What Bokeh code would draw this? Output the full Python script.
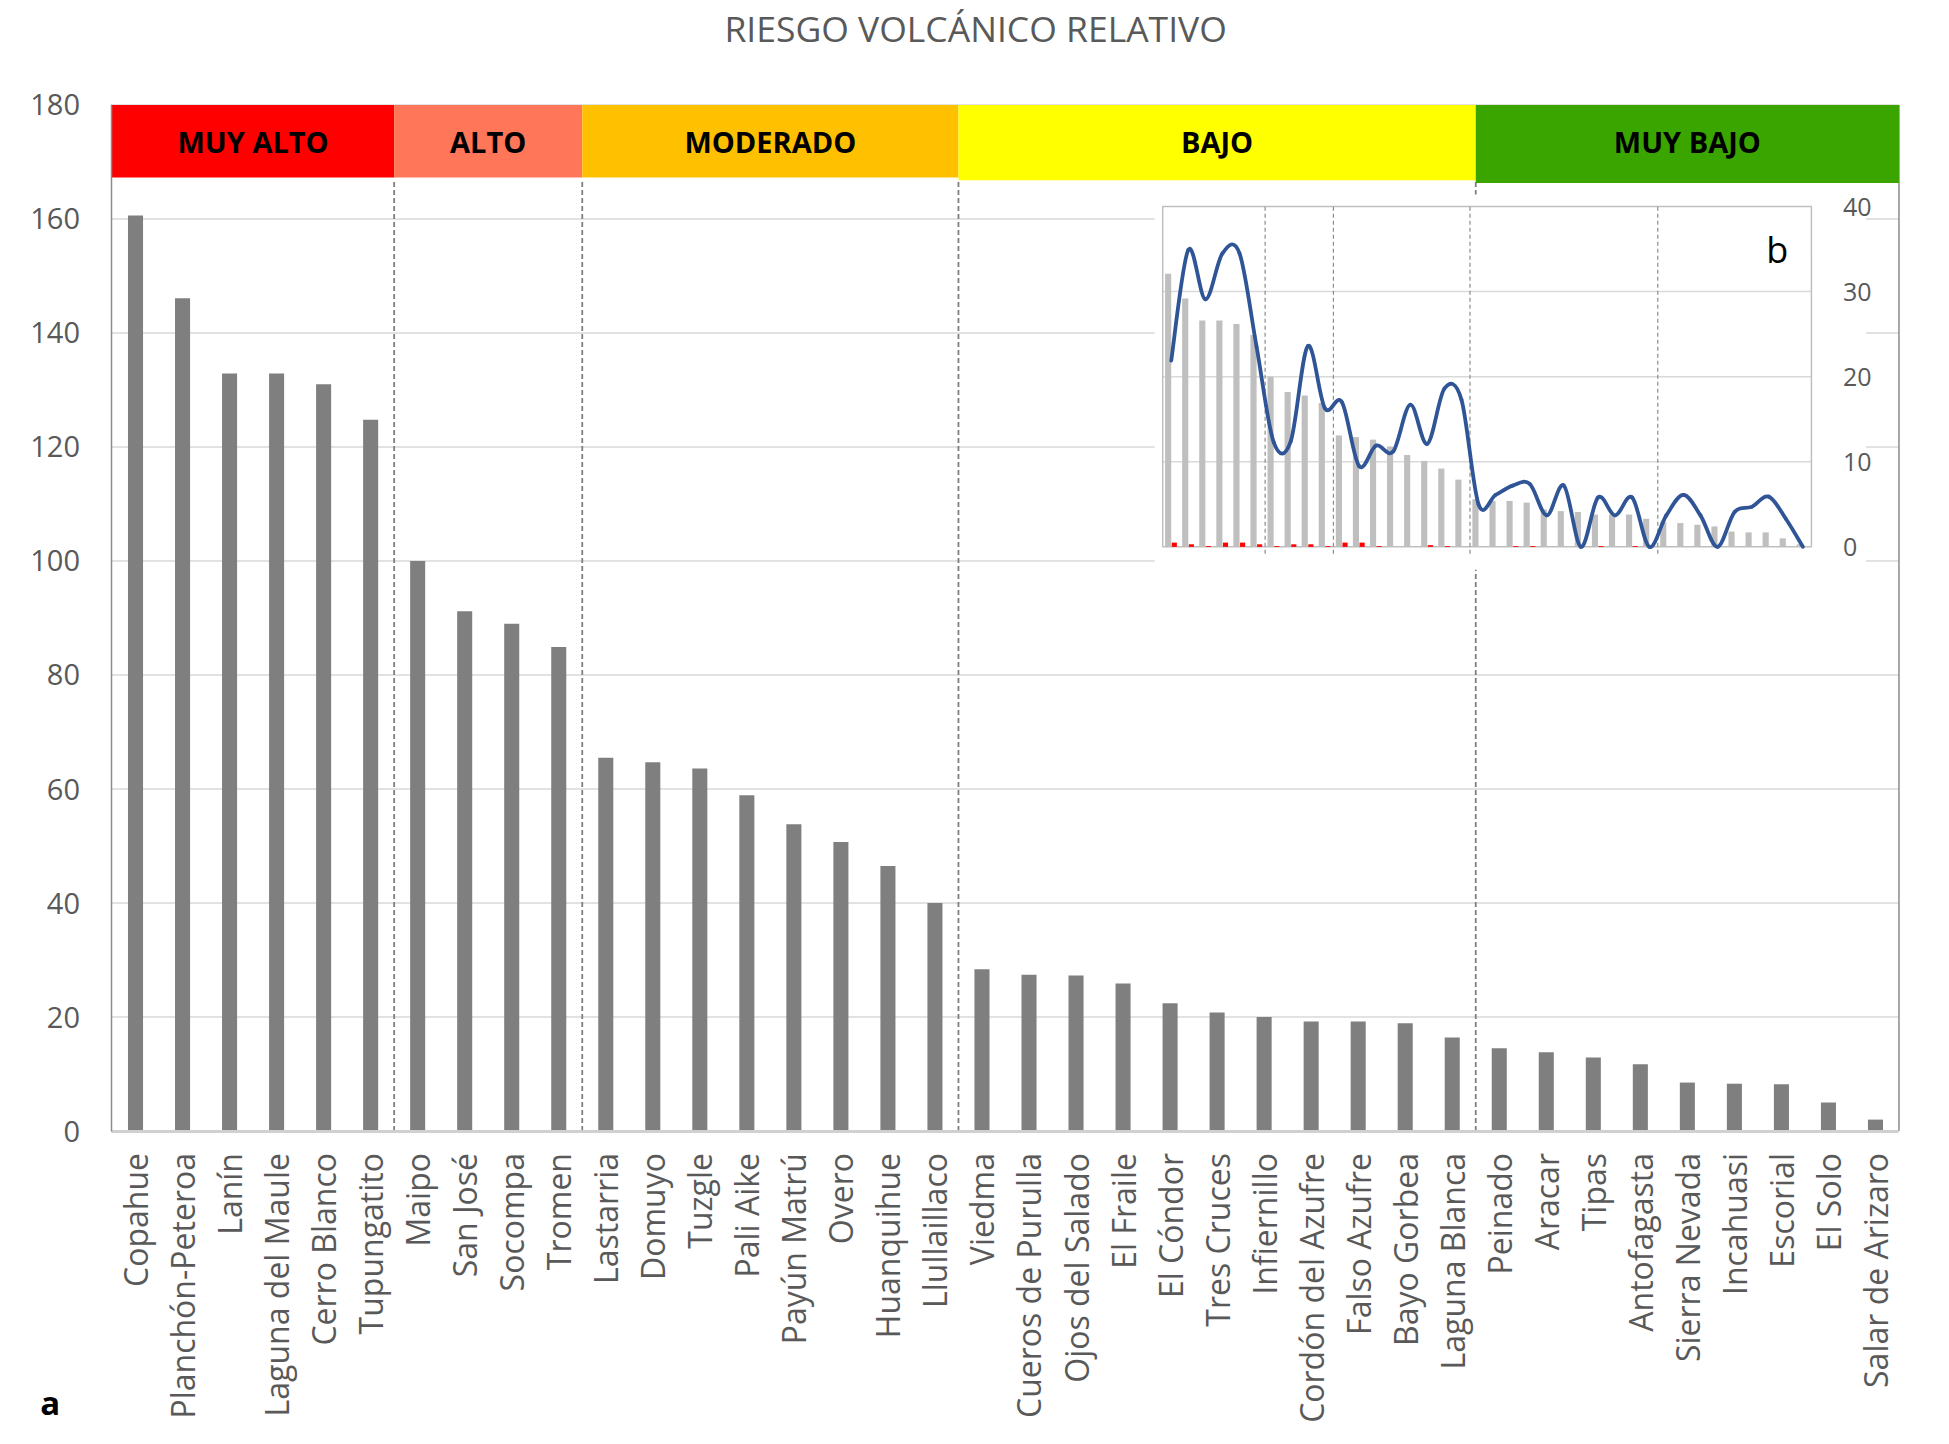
import math
from bokeh.plotting import figure
from bokeh.models import Range1d, FixedTicker
from bokeh.core.properties import value
from bokeh.embed import file_html
from bokeh.resources import INLINE

# ---------------- data ----------------
volcanes = ["Copahue", "Planchón-Peteroa", "Lanín", "Laguna del Maule", "Cerro Blanco",
            "Tupungatito", "Maipo", "San José", "Socompa", "Tromen", "Lastarria", "Domuyo",
            "Tuzgle", "Pali Aike", "Payún Matrú", "Overo", "Huanquihue", "Llullaillaco",
            "Viedma", "Cueros de Purulla", "Ojos del Salado", "El Fraile", "El Cóndor",
            "Tres Cruces", "Infiernillo", "Cordón del Azufre", "Falso Azufre", "Bayo Gorbea",
            "Laguna Blanca", "Peinado", "Aracar", "Tipas", "Antofagasta", "Sierra Nevada",
            "Incahuasi", "Escorial", "El Solo", "Salar de Arizaro"]
riesgo = [160.6, 146.1, 132.9, 132.9, 131.0, 124.8, 100.0, 91.2, 89.0, 84.9,
          65.5, 64.7, 63.6, 58.9, 53.8, 50.7, 46.5, 40.0,
          28.4, 27.4, 27.3, 25.9, 22.4, 20.8, 20.0, 19.2, 19.2, 18.9, 16.4,
          14.5, 13.8, 12.9, 11.7, 8.5, 8.3, 8.2, 5.0, 2.0]
categorias = ["MUY ALTO", "ALTO", "MODERADO", "BAJO", "MUY BAJO"]
n_por_categoria = [6, 4, 8, 11, 9]
y_ticks = [0, 20, 40, 60, 80, 100, 120, 140, 160, 180]

# inset (b)
inset_gris = [32.1, 29.2, 26.6, 26.6, 26.2, 24.9, 20.0, 18.2, 17.8, 16.9,
              13.1, 12.9, 12.6, 11.8, 10.8, 10.1, 9.2, 7.9, 5.6, 5.4,
              5.4, 5.2, 4.4, 4.2, 4.1, 3.8, 3.8, 3.8, 3.3, 2.9,
              2.8, 2.6, 2.4, 1.8, 1.7, 1.7, 1.0, 0.3]
inset_rojo = [0.5, 0.3, 0.1, 0.5, 0.5, 0.3, 0.1, 0.3, 0.3, 0.1,
              0.5, 0.5, 0.1, 0.0, 0.0, 0.2, 0.1, 0.0, 0.0, 0.0,
              0.1, 0.1, 0.0, 0.0, 0.0, 0.1, 0.0, 0.1, 0.0, 0.0,
              0.0, 0.0, 0.0, 0.0, 0.0, 0.0, 0.0, 0.0]
inset_linea = [21.9, 34.9, 29.1, 34.5, 34.5, 23.5, 12.3, 12.4, 23.6, 16.3,
               17.0, 9.5, 11.9, 11.2, 16.7, 12.1, 18.6, 17.3, 5.0, 6.1,
               7.2, 7.4, 3.7, 7.2, 0.0, 5.8, 3.7, 5.8, 0.0, 3.7,
               6.1, 3.7, 0.0, 4.1, 4.7, 5.9, 3.3, 0.0]
inset_ticks = [0, 10, 20, 30, 40]

titulo = "RIESGO VOLCÁNICO RELATIVO"

# ---------------- layout / styles ----------------
band_colors = ["#FF0000", "#FF7758", "#FFC000", "#FFFF00", "#3BA500"]
band_bottoms = [167.3, 167.3, 167.3, 166.8, 166.3]
GRAY_TXT = "#595959"
FONT = "Open Sans"

n = len(volcanes)
xs = list(range(n))

# frame covers whole canvas; main plot area is -0.5..n-0.5 x 0..180
XR = (-2.871, 38.234)
YR = (-52.19, 198.33)
# inset placement expressed in main-plot coordinates
INSET_X = (21.843, 35.638)   # main x at inset left / right border
INSET_Y = (102.48, 162.19)   # main y at inset 0 / 40

ax = (INSET_X[1] - INSET_X[0]) / n
ix_start = (XR[0] - INSET_X[0]) / ax - 0.5
ix_end = (XR[1] - INSET_X[0]) / ax - 0.5
ay = (INSET_Y[1] - INSET_Y[0]) / inset_ticks[-1]
iy_start = (YR[0] - INSET_Y[0]) / ay
iy_end = (YR[1] - INSET_Y[0]) / ay

p = figure(width=1933, height=1428,
           x_range=Range1d(*XR), y_range=Range1d(*YR),
           output_backend="svg", toolbar_location=None, min_border=0)
p.extra_x_ranges = {"ix": Range1d(ix_start, ix_end)}
p.extra_y_ranges = {"iy": Range1d(iy_start, iy_end)}
p.outline_line_color = None
p.background_fill_color = "white"
p.xgrid.visible = False
p.ygrid.visible = False

# axes (fixed inside the canvas)
p.xaxis.fixed_location = 0
p.xaxis.bounds = (-0.5, n - 0.5)
p.xaxis.ticker = FixedTicker(ticks=xs)
p.xaxis.major_label_overrides = {i: v for i, v in enumerate(volcanes)}
p.xaxis.major_label_orientation = math.pi / 2
p.xaxis.major_label_text_font = FONT
p.xaxis.major_label_text_font_size = "32px"
p.xaxis.major_label_text_color = GRAY_TXT
p.xaxis.major_label_standoff = 16
p.xaxis.major_tick_line_color = None
p.xaxis.minor_tick_line_color = None
p.xaxis.axis_line_color = "#D0D0D0"
p.xaxis.axis_line_width = 3

p.yaxis.fixed_location = -0.5
p.yaxis.bounds = (0, 180)
p.yaxis.ticker = FixedTicker(ticks=y_ticks)
p.yaxis.major_label_text_font = FONT
p.yaxis.major_label_text_font_size = "29px"
p.yaxis.major_label_text_color = GRAY_TXT
p.yaxis.major_label_standoff = 26
p.yaxis.major_tick_line_color = None
p.yaxis.minor_tick_line_color = None
p.yaxis.axis_line_color = "#8C8C8C"
p.yaxis.axis_line_width = 1.5

# horizontal grid lines
p.segment(x0=[-0.5] * len(y_ticks), x1=[n - 0.5] * len(y_ticks), y0=y_ticks, y1=y_ticks,
          line_color="#D9D9D9", line_width=1.5, level="underlay")
# right border
p.segment(x0=[n - 0.5], x1=[n - 0.5], y0=[0], y1=[180], line_color="#8C8C8C", line_width=1.5)

# group boundaries
bounds = [0]
for k in n_por_categoria:
    bounds.append(bounds[-1] + k)
sep = [b - 0.5 for b in bounds[1:-1]]

p.segment(x0=sep, y0=[0] * len(sep), x1=sep, y1=[167] * len(sep),
          line_color="#7F7F7F", line_width=1.8, line_dash="5 3")

# main bars
p.vbar(x=xs, top=riesgo, width=0.32, fill_color="#7F7F7F", line_color=None)

# category bands
p.quad(left=[b - 0.5 for b in bounds[:-1]], right=[b - 0.5 for b in bounds[1:]],
       bottom=band_bottoms, top=[180] * 5, fill_color=band_colors, line_color=None)
p.text(x=[(bounds[i] + bounds[i + 1] - 1) / 2 for i in range(5)], y=[173.6] * 5,
       text=categorias, text_font=value(FONT), text_font_style="bold",
       text_font_size="29px", text_color="black",
       text_align="center", text_baseline="middle")

# ---------------- inset (b) ----------------
R = dict(x_range_name="ix", y_range_name="iy")
p.quad(left=[-0.97], right=[40.7], bottom=[-2.7], top=[41.4],
       fill_color="white", line_color=None, **R)
gl = inset_ticks[1:-1]
p.segment(x0=[-0.5] * len(gl), x1=[n - 0.5] * len(gl), y0=gl, y1=gl,
          line_color="#D9D9D9", line_width=1.5, **R)
p.quad(left=[-0.5], right=[n - 0.5], bottom=[0], top=[inset_ticks[-1]],
       fill_color=None, line_color="#BFBFBF", line_width=1.5, **R)

p.vbar(x=[i - 0.18 for i in xs], top=inset_gris, width=0.36,
       fill_color="#BFBFBF", line_color=None, **R)
p.vbar(x=[i + 0.18 for i in xs], top=inset_rojo, width=0.3,
       fill_color="#FF0000", line_color=None, **R)

p.segment(x0=sep, y0=[-0.8] * len(sep), x1=sep, y1=[40] * len(sep),
          line_color="#8C8C8C", line_width=1.2, line_dash="4 3", **R)

# smooth line (Catmull-Rom -> cubic Bezier) through the data points
px = xs
py = inset_linea
x0, y0, x1, y1, cx0, cy0, cx1, cy1 = [], [], [], [], [], [], [], []
for i in range(n - 1):
    im1 = max(i - 1, 0)
    ip2 = min(i + 2, n - 1)
    x0.append(px[i]); y0.append(py[i])
    x1.append(px[i + 1]); y1.append(py[i + 1])
    cx0.append(px[i] + (px[i + 1] - px[im1]) / 6.0)
    cy0.append(py[i] + (py[i + 1] - py[im1]) / 6.0)
    cx1.append(px[i + 1] - (px[ip2] - px[i]) / 6.0)
    cy1.append(py[i + 1] - (py[ip2] - py[i]) / 6.0)
p.bezier(x0=x0, y0=y0, x1=x1, y1=y1, cx0=cx0, cy0=cy0, cx1=cx1, cy1=cy1,
         line_color="#2F5597", line_width=3.8, line_cap="round", **R)

p.text(x=[39.35] * len(inset_ticks), y=inset_ticks, text=[str(t) for t in inset_ticks],
       text_font=value(FONT), text_font_size="25px", text_color=GRAY_TXT,
       text_align="left", text_baseline="middle", **R)
p.text(x=[35.5], y=[35.0], text=["b"], text_font=value(FONT), text_font_size="36px",
       text_color="black", text_align="center", text_baseline="middle", **R)

# title and panel letter
p.text(x=[17.865], y=[193.5], text=[titulo], text_font=value(FONT), text_font_size="35.5px",
       text_color=GRAY_TXT, text_align="center", text_baseline="middle")
p.text(x=[-1.812], y=[-47.6], text=["a"], text_font=value(FONT), text_font_size="33px",
       text_font_style="bold", text_color="black", text_align="center",
       text_baseline="middle")

open("out.html", "w").write(file_html(p, INLINE))
